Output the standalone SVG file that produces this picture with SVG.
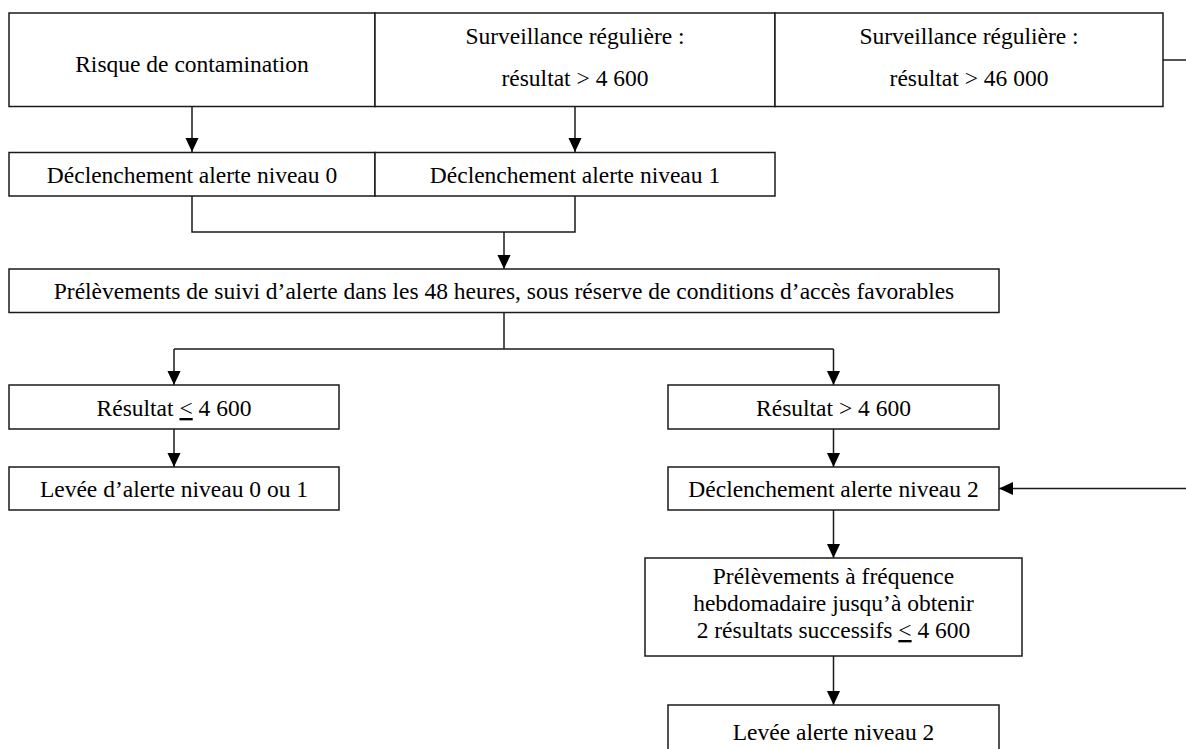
<svg xmlns="http://www.w3.org/2000/svg" width="1186" height="749" viewBox="0 0 1186 749">
<style>
.box{fill:#fff;stroke:#1a1a1a;stroke-width:1.5}
.t{font-family:"Liberation Serif","Times New Roman",serif;font-size:23.5px;fill:#000;text-anchor:middle}
.c{fill:none;stroke:#1a1a1a;stroke-width:1.5}
.u{text-decoration:underline}
</style>
<defs>
<marker id="ah" markerUnits="userSpaceOnUse" markerWidth="14" markerHeight="15" refX="15" refY="7" orient="auto" viewBox="0 0 15 14">
<path d="M0,0 L15,7 L0,14 z" fill="#000"/>
</marker>
</defs>
<rect width="1186" height="749" fill="#fff"/>
<g id="connectors">
<path class="c" d="M192,106.5 V152" marker-end="url(#ah)"/>
<path class="c" d="M575,106.5 V152" marker-end="url(#ah)"/>
<path class="c" d="M192,196 V232 H575 V196"/>
<path class="c" d="M504,232 V269" marker-end="url(#ah)"/>
<path class="c" d="M504,312 V349"/>
<path class="c" d="M174,349 H833.5"/>
<path class="c" d="M174,349 V385" marker-end="url(#ah)"/>
<path class="c" d="M833.5,349 V385" marker-end="url(#ah)"/>
<path class="c" d="M174,429 V467" marker-end="url(#ah)"/>
<path class="c" d="M833.5,429 V467" marker-end="url(#ah)"/>
<path class="c" d="M833.5,510 V558" marker-end="url(#ah)"/>
<path class="c" d="M833.5,656 V705" marker-end="url(#ah)"/>
<path class="c" d="M1163,60 H1186"/>
<path class="c" d="M1186,488.5 H999" marker-end="url(#ah)"/>
</g>
<g id="n-risque">
<rect class="box" x="9" y="13" width="366" height="93.5"/>
<text class="t" x="192" y="72">Risque de contamination</text>
</g>
<g id="n-surv1">
<rect class="box" x="375" y="13" width="400" height="93.5"/>
<text class="t" x="575" y="44">Surveillance régulière :</text>
<text class="t" x="575" y="86">résultat &gt; 4 600</text>
</g>
<g id="n-surv2">
<rect class="box" x="775" y="13" width="388" height="93.5"/>
<text class="t" x="969" y="44">Surveillance régulière :</text>
<text class="t" x="969" y="86">résultat &gt; 46 000</text>
</g>
<g id="n-decl0">
<rect class="box" x="9" y="152.5" width="366" height="43.5"/>
<text class="t" x="192" y="183">Déclenchement alerte niveau 0</text>
</g>
<g id="n-decl1">
<rect class="box" x="375" y="152.5" width="400" height="43.5"/>
<text class="t" x="575" y="183">Déclenchement alerte niveau 1</text>
</g>
<g id="n-prelev">
<rect class="box" x="9" y="269" width="990" height="43.5"/>
<text class="t" x="504" y="299">Prélèvements de suivi d’alerte dans les 48 heures, sous réserve de conditions d’accès favorables</text>
</g>
<g id="n-res-le">
<rect class="box" x="9" y="385" width="330" height="44"/>
<text class="t" x="174" y="416">Résultat <tspan class="u">&lt;</tspan> 4 600</text>
</g>
<g id="n-levee01">
<rect class="box" x="9" y="467" width="330" height="43"/>
<text class="t" x="174" y="497">Levée d’alerte niveau 0 ou 1</text>
</g>
<g id="n-res-gt">
<rect class="box" x="668" y="385" width="331" height="44"/>
<text class="t" x="833.5" y="416">Résultat &gt; 4 600</text>
</g>
<g id="n-decl2">
<rect class="box" x="668" y="467" width="331" height="43"/>
<text class="t" x="833.5" y="497">Déclenchement alerte niveau 2</text>
</g>
<g id="n-hebdo">
<rect class="box" x="645" y="558" width="377" height="98"/>
<text class="t" x="833.5" y="584">Prélèvements à fréquence</text>
<text class="t" x="833.5" y="611">hebdomadaire jusqu’à obtenir</text>
<text class="t" x="833.5" y="638">2 résultats successifs <tspan class="u">&lt;</tspan> 4 600</text>
</g>
<g id="n-levee2">
<rect class="box" x="668" y="705" width="331" height="60"/>
<text class="t" x="833.5" y="740">Levée alerte niveau 2</text>
</g>
</svg>
